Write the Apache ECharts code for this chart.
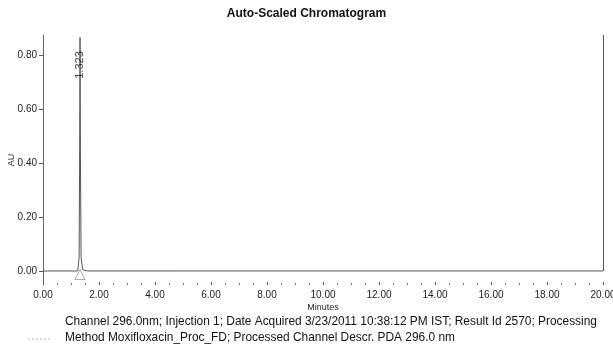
<!DOCTYPE html>
<html>
<head>
<meta charset="utf-8">
<script src="https://cdn.jsdelivr.net/npm/echarts@6/dist/echarts.min.js"></script>
<style>html,body{margin:0;padding:0;background:#fff}#c{width:613px;height:347px}</style>
</head>
<body>
<div id="c"></div>
<script>
const titleText = 'Auto-Scaled Chromatogram';
const xName = 'Minutes';
const yName = 'AU';
const yTickValues = [0, 0.2, 0.4, 0.6, 0.8];
// chromatogram trace: minutes, AU
const traceTime = [0, 1.24, 1.29, 1.31, 1.323, 1.335, 1.36, 1.42, 1.6, 20];
const traceAU   = [0, 0, 0.05, 0.45, 0.865, 0.45, 0.05, 0.004, 0, 0];
const peakTimes = [1.323];
const peakLabels = ['1.323'];
const footer1 = 'Channel 296.0nm; Injection 1; Date Acquired 3/23/2011 10:38:12 PM IST; Result Id 2570; Processing';
const footer2 = 'Method Moxifloxacin_Proc_FD; Processed Channel Descr. PDA 296.0 nm';

const font = 'Liberation Sans, Arial, sans-serif';
const trace = traceTime.map((t, i) => [t, traceAU[i]]);
const apex = Math.max.apply(null, traceAU);
const chart = echarts.init(document.getElementById('c'), null, {renderer: 'canvas'});
chart.setOption({
  backgroundColor: '#fff',
  animation: false,
  title: {
    text: titleText, left: 'center', top: 8, padding: 0,
    textStyle: {fontFamily: font, fontSize: 12, fontWeight: 'bold', color: '#111'}
  },
  grid: {left: 43, right: 10, top: 35, bottom: 62, outerBoundsMode: 'none', containLabel: false},
  xAxis: {
    type: 'value', min: 0, max: 20, interval: 2,
    name: xName, nameLocation: 'middle', nameGap: 18, nameMoveOverlap: false,
    nameTextStyle: {fontFamily: font, fontSize: 9, color: '#222'},
    axisLine: {show: false, onZero: false},
    axisTick: {show: true, length: 3, inside: true, lineStyle: {color: '#555', width: 1}},
    minorTick: {show: true, splitNumber: 4, length: 2, lineStyle: {color: '#777'}},
    axisLabel: {fontFamily: font, fontSize: 10, color: '#222', margin: 5,
      formatter: v => v.toFixed(2)},
    splitLine: {show: false}
  },
  yAxis: {
    type: 'value', min: -0.052, max: 0.874,
    name: yName, nameLocation: 'middle', nameGap: 27, nameRotate: 90, nameMoveOverlap: false,
    nameTextStyle: {fontFamily: font, fontSize: 9, color: '#222'},
    axisLine: {show: true, onZero: false, lineStyle: {color: '#666', width: 1}},
    axisTick: {show: true, length: 4, customValues: yTickValues, lineStyle: {color: '#555'}},
    axisLabel: {fontFamily: font, fontSize: 10, color: '#222', margin: 6,
      customValues: yTickValues, formatter: v => v.toFixed(2)},
    splitLine: {show: false}
  },
  series: [
    {
      type: 'line', data: trace, symbol: 'none',
      lineStyle: {color: '#555', width: 1}, z: 3,
      markLine: {
        silent: true, symbol: 'none', label: {show: false},
        lineStyle: {color: '#555', width: 1, type: 'solid'},
        data: [[{coord: [20, 0]}, {coord: [20, 0.874]}]]
      }
    },
    {
      type: 'scatter', symbol: 'triangle', symbolSize: [10, 10],
      data: peakTimes.map(t => [t, -0.013]),
      itemStyle: {color: 'rgba(255,255,255,0)', borderColor: '#777', borderWidth: 0.8}, z: 4
    },
    {
      type: 'scatter', symbol: 'circle', symbolSize: 1,
      itemStyle: {color: 'rgba(0,0,0,0)'},
      data: peakTimes.map((t, i) => ({value: [t, apex * 0.882], name: peakLabels[i]})),
      label: {show: true, position: 'inside', rotate: 90, formatter: p => p.name,
        fontFamily: font, fontSize: 11, color: '#111'}, z: 5
    }
  ],
  graphic: [
    {type: 'text', left: 65, top: 316, style: {text: footer1, font: '11.9px ' + font, fill: '#111'}},
    {type: 'text', left: 65, top: 332, style: {text: footer2, font: '11.9px ' + font, fill: '#111'}},
    {type: 'line', shape: {x1: 28, y1: 339, x2: 52, y2: 339}, style: {stroke: '#bbb', lineWidth: 1, lineDash: [2, 2]}}
  ]
});
</script>
</body>
</html>
